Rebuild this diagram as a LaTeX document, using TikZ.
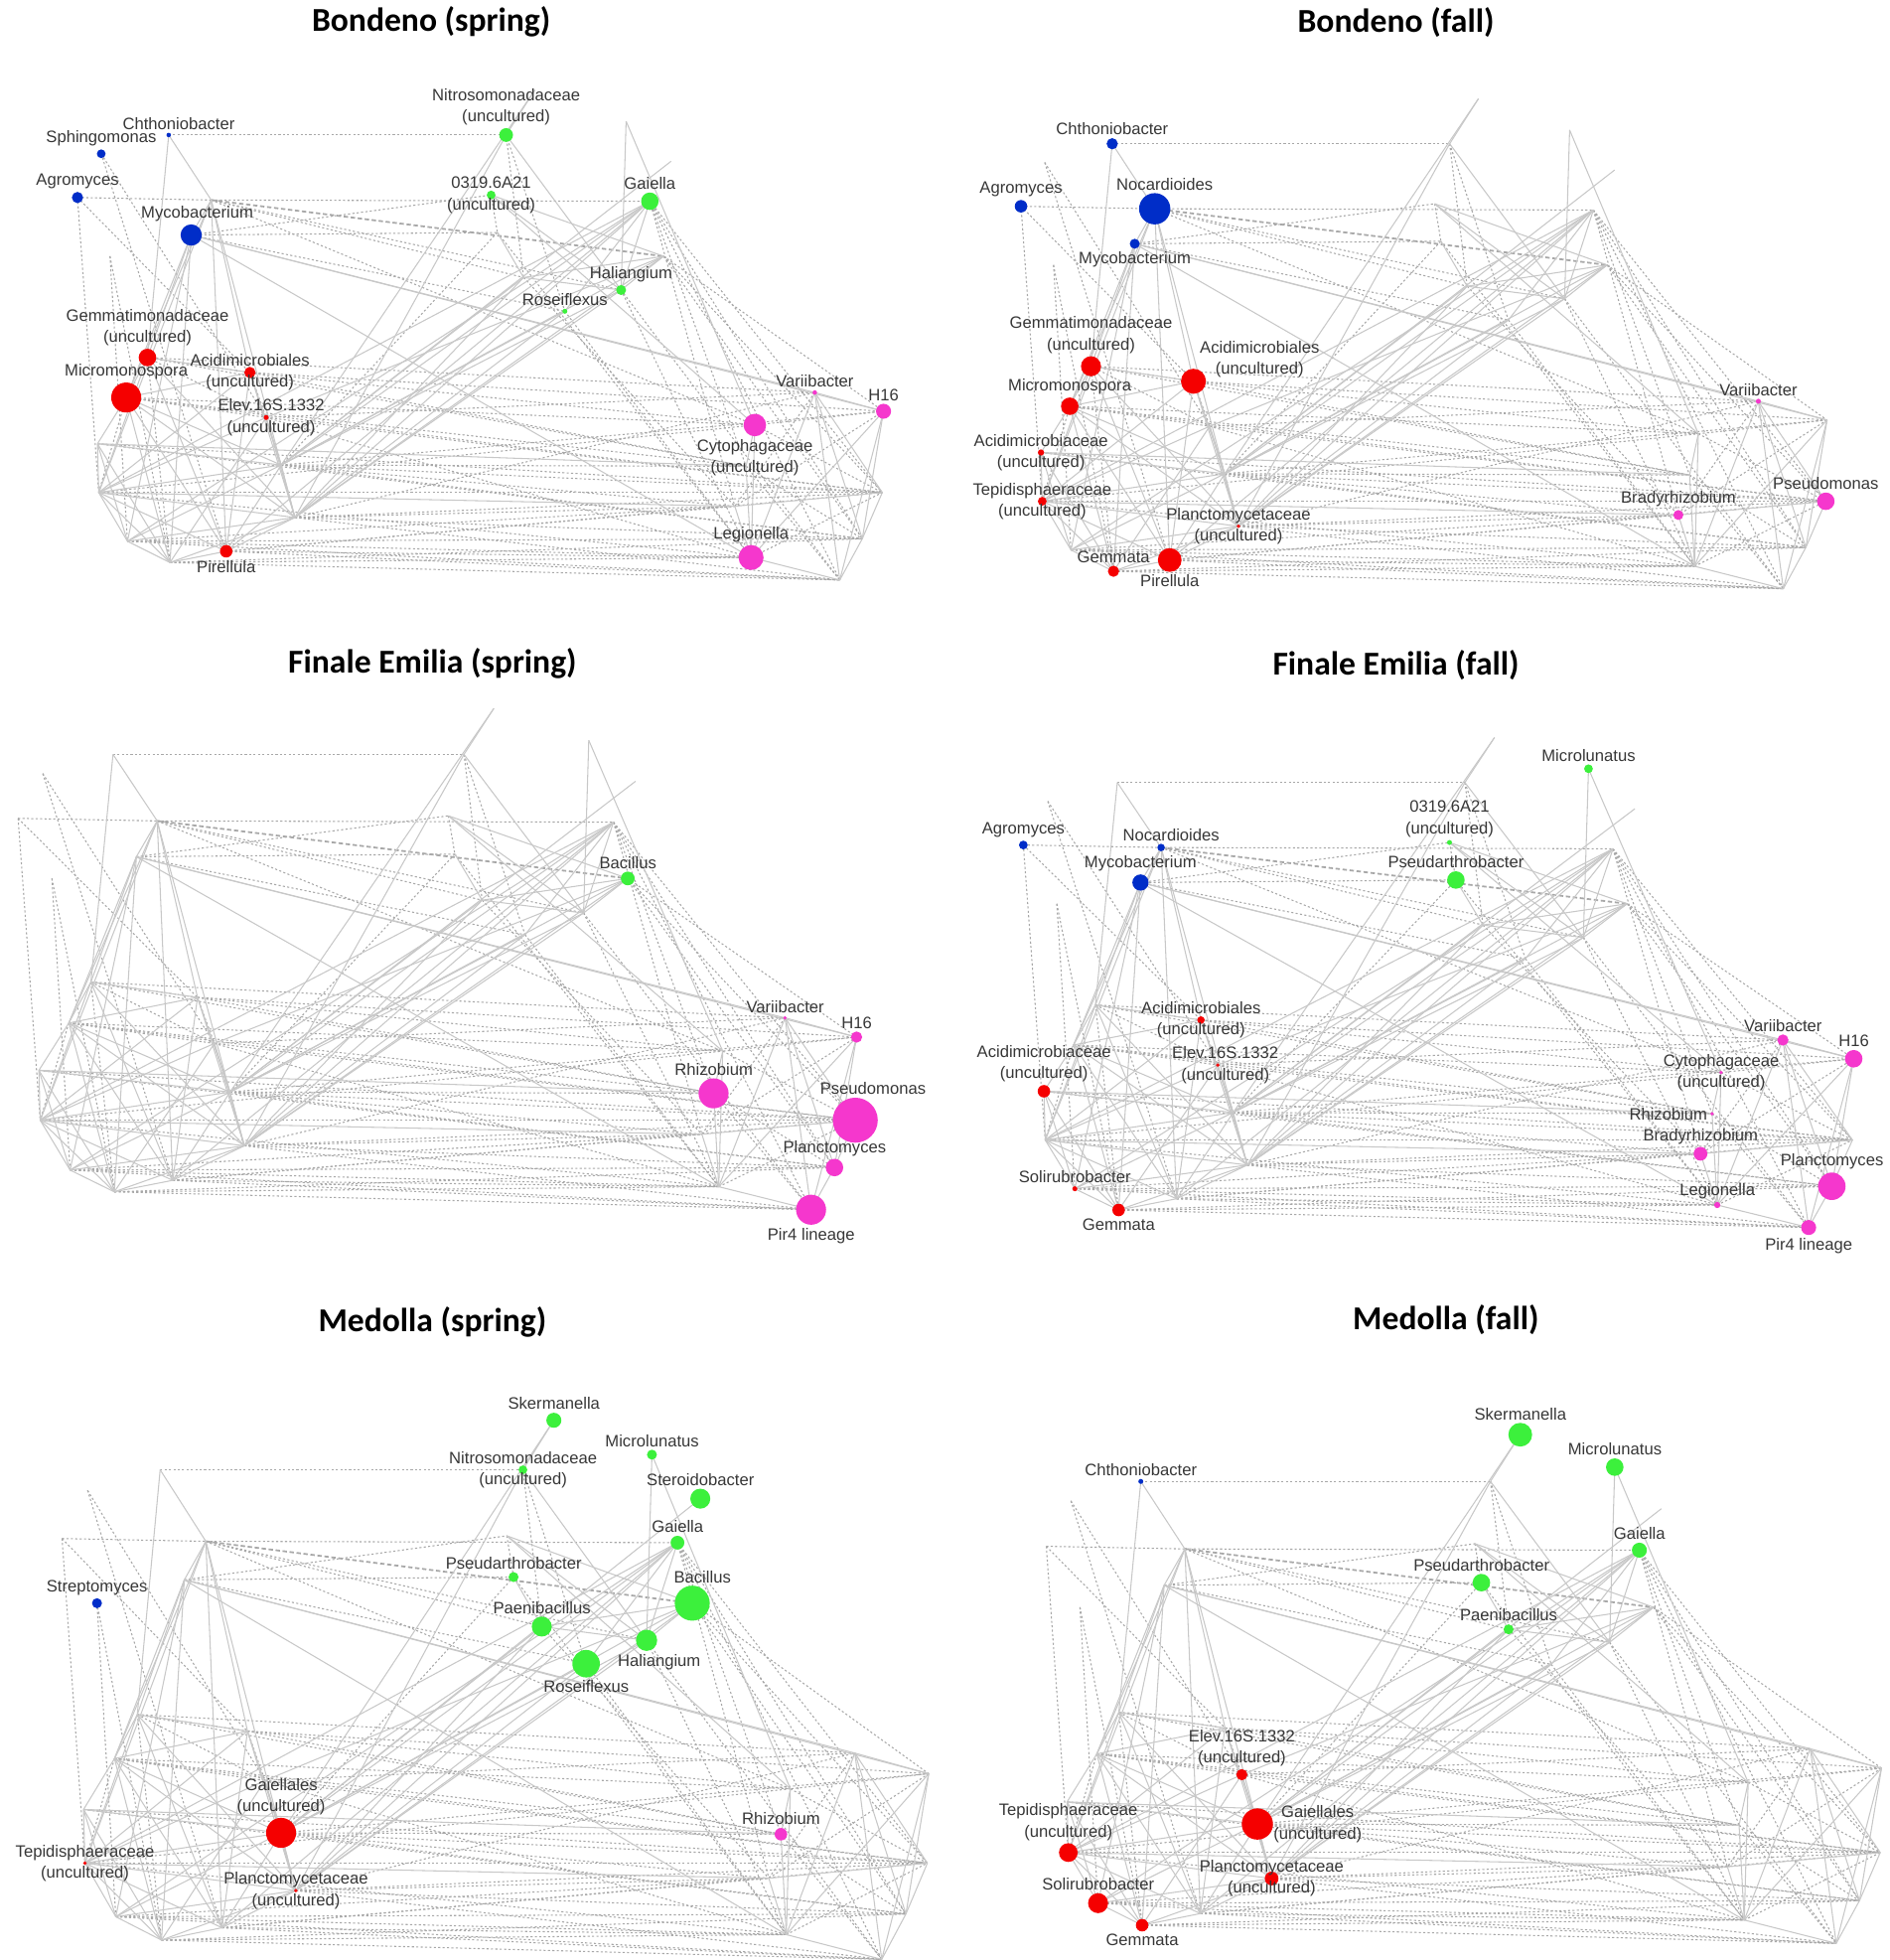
\documentclass[tikz,border=0pt]{standalone}
\usepackage{fontspec}
\setmainfont{Liberation Sans}
\newfontfamily\titlefont{Carlito}

\definecolor{nblue}{RGB}{0,45,200}
\definecolor{nred}{RGB}{245,0,0}
\definecolor{ngreen}{RGB}{60,240,60}
\definecolor{npink}{RGB}{245,55,205}
\definecolor{linkgray}{RGB}{200,200,200}
\definecolor{dotgray}{RGB}{168,168,168}
\definecolor{labgray}{RGB}{55,55,55}

\tikzset{
	taxon/.style = {circle, inner sep = 0pt, draw = none},
	sz/.style = {minimum size = #1*0.05cm},
	bluetaxon/.style = {taxon, fill = nblue},
	redtaxon/.style = {taxon, fill = nred},
	greentaxon/.style = {taxon, fill = ngreen},
	pinktaxon/.style = {taxon, fill = npink},
	lab/.style = {font = \fontsize{9.4}{12}\selectfont, text = labgray, inner sep = 0.8pt, align = center},
	link/.style = {draw = linkgray, line width = 0.6pt},
	dotlink/.style = {draw = dotgray, line width = 0.6pt, dash pattern = on 1.2pt off 1.3pt},
	paneltitle/.style = {font = \titlefont\bfseries\fontsize{19}{23}\selectfont}
}

% co-occurrence layout, the same in every panel
\newcommand{\netgraph}{%
	\coordinate (chth) at (135, 108);
	\coordinate (sphi) at (81, 123);
	\coordinate (agro) at (62, 158);
	\coordinate (noca) at (169, 160);
	\coordinate (myco) at (153, 188);
	\coordinate (strep) at (88, 205);
	\coordinate (nitro) at (405, 108);
	\coordinate (skerm) at (428, 72);
	\coordinate (micl) at (501, 97);
	\coordinate (steroi) at (537, 129);
	\coordinate (orf) at (393, 156);
	\coordinate (gaie) at (520, 161);
	\coordinate (pseuda) at (398, 186);
	\coordinate (bacil) at (531, 205);
	\coordinate (paeni) at (419, 222);
	\coordinate (hali) at (497, 232);
	\coordinate (rose) at (452, 249);
	\coordinate (gemmat) at (118, 286);
	\coordinate (acidi) at (200, 298);
	\coordinate (micro) at (101, 318);
	\coordinate (elev) at (213, 334);
	\coordinate (acmb) at (78, 355);
	\coordinate (gaiell) at (225, 372);
	\coordinate (tepi) at (79, 394);
	\coordinate (planc) at (236, 414);
	\coordinate (solir) at (102, 433);
	\coordinate (pire) at (181, 441);
	\coordinate (gemma) at (136, 450);
	\coordinate (vari) at (652, 314);
	\coordinate (h16) at (707, 329);
	\coordinate (cyto) at (604, 340);
	\coordinate (rhizo) at (597, 373);
	\coordinate (brady) at (588, 405);
	\coordinate (pseudo) at (706, 394);
	\coordinate (plancy) at (690, 431);
	\coordinate (legi) at (601, 446);
	\coordinate (pir4) at (672, 464);
	% negative correlations
	\foreach \a/\b in {chth/nitro, agro/noca, agro/acidi, agro/tepi, sphi/elev, sphi/pire, strep/solir, strep/gemma,
		noca/paeni, noca/hali, noca/gaie, myco/pseuda, myco/orf, myco/rose, noca/cyto, nitro/paeni, nitro/rose,
		orf/pseuda, pseuda/gaiell, pseuda/legi, gaie/plancy, gaie/pir4, gaie/pseudo, gaie/brady, gaie/rhizo,
		bacil/pseudo, bacil/plancy, bacil/h16, hali/legi, hali/pir4, rose/legi, paeni/brady, gemmat/vari,
		gemmat/elev, acidi/rhizo, acidi/h16, micro/elev, micro/rhizo, micro/cyto, elev/pseudo, elev/vari,
		gaiell/h16, gaiell/pseudo, gaiell/plancy, gaiell/rhizo, gaiell/brady, planc/plancy, planc/pir4,
		planc/pseudo, planc/brady, planc/vari, tepi/pseudo, tepi/cyto, tepi/legi, acmb/pseudo, acmb/plancy,
		solir/legi, solir/pir4, solir/brady, gemma/pir4, gemma/legi, gemma/plancy, pire/brady, pire/pir4,
		pire/legi, pire/pseudo, micro/tepi, gemmat/gemma, acidi/elev, vari/brady, h16/cyto, h16/brady,
		cyto/pseudo, rhizo/plancy, rhizo/pir4, legi/pseudo, acidi/cyto, micro/pseudo, gemmat/rhizo, elev/legi,
		solir/plancy, gemmat/acidi}
		\draw [dotlink] (\a) -- (\b);
	\draw [dotlink, line width = 1pt, dash pattern = on 2.5pt off 1.5pt] (noca) -- (bacil);
	% positive correlations
	\foreach \a/\b in {chth/noca, chth/gemmat, noca/myco, noca/acidi, noca/pire, noca/micro, noca/tepi, noca/planc,
		myco/gemmat, myco/micro, myco/vari, myco/h16, myco/legi, myco/gemma, myco/solir, skerm/nitro, nitro/planc,
		nitro/hali, micl/cyto, micl/hali, steroi/gaiell, orf/cyto, orf/bacil, orf/hali, gaie/gaiell, gaie/planc,
		gaie/pire, gaie/hali, gaie/rose, gaie/solir, gaie/tepi, bacil/gaiell, bacil/planc, bacil/paeni, bacil/hali,
		bacil/elev, paeni/gaiell, paeni/planc, paeni/hali, paeni/pseuda, hali/gaiell, hali/planc, rose/gaiell,
		rose/planc, gemmat/acidi, gemmat/micro, gemmat/planc, gemmat/pire, gemmat/tepi, acidi/planc, acidi/gaiell,
		acidi/pire, acidi/micro, acidi/tepi, micro/acmb, micro/gemma, micro/planc, micro/pire, micro/gaiell,
		elev/planc, elev/gemma, elev/tepi, elev/gaiell, acmb/tepi, acmb/gemma, acmb/solir, acmb/gaiell,
		tepi/gaiell, tepi/planc, tepi/solir, tepi/gemma, tepi/pire, solir/gemma, solir/planc, solir/gaiell,
		gemma/pire, gemma/planc, pire/planc, gaiell/planc, gaiell/pire, acmb/rhizo, tepi/brady, skerm/gaiell,
		vari/pir4, vari/plancy, vari/legi, vari/h16, h16/legi, h16/pir4, cyto/legi, cyto/rhizo, rhizo/legi,
		pseudo/plancy, pseudo/vari, plancy/pir4, legi/pir4, brady/legi, brady/pseudo, h16/plancy}
		\draw [link] (\a) -- (\b);
}

\begin{document}
\begin{tikzpicture}[x = 0.025cm, y = -0.025cm, label distance = 0.5pt]
	\useasboundingbox (0, 0) rectangle (1512, 1568);

	% titles
	\node (tbs) at (345, 17) [paneltitle] {Bondeno (spring)};
	\node (tbf) at (1117, 18) [paneltitle] {Bondeno (fall)};
	\node (tfs) at (346, 531) [paneltitle] {Finale Emilia (spring)};
	\node (tff) at (1117, 532) [paneltitle] {Finale Emilia (fall)};
	\node (tms) at (346, 1058) [paneltitle] {Medolla (spring)};
	\node (tmf) at (1157, 1056) [paneltitle] {Medolla (fall)};

	% bondeno spring
	\begin{scope}[name prefix = bs-]
		\netgraph
		\node (chthN) at (chth) [bluetaxon, sz = 1.8, label = {[lab, xshift = 0.2cm]above:Chthoniobacter}] {};
		\node (sphiN) at (sphi) [bluetaxon, sz = 3.5, label = {[lab]above:Sphingomonas}] {};
		\node (agroN) at (agro) [bluetaxon, sz = 4.5, label = {[lab]above:Agromyces}] {};
		\node (mycoN) at (myco) [bluetaxon, sz = 8.5, label = {[lab, xshift = 0.12cm]above:Mycobacterium}] {};
		\node (nitroN) at (nitro) [greentaxon, sz = 5.5, label = {[lab]above:{Nitrosomonadaceae\\(uncultured)}}] {};
		\node (orfN) at (orf) [greentaxon, sz = 3.5, label = {[lab]center:{0319.6A21\\(uncultured)}}] {};
		\node (gaieN) at (gaie) [greentaxon, sz = 7, label = {[lab]above:Gaiella}] {};
		\node (haliN) at (hali) [greentaxon, sz = 4, label = {[lab, xshift = 0.2cm]above:Haliangium}] {};
		\node (roseN) at (rose) [greentaxon, sz = 2, label = {[lab]above:Roseiflexus}] {};
		\node (gemmatN) at (gemmat) [redtaxon, sz = 7, label = {[lab]above:{Gemmatimonadaceae\\(uncultured)}}] {};
		\node (acidiN) at (acidi) [redtaxon, sz = 4.5, label = {[lab]center:{Acidimicrobiales\\(uncultured)}}] {};
		\node (microN) at (micro) [redtaxon, sz = 12, label = {[lab]above:Micromonospora}] {};
		\node (elevN) at (elev) [redtaxon, sz = 2, label = {[lab, xshift = 0.1cm]center:{Elev.16S.1332\\(uncultured)}}] {};
		\node (pireN) at (pire) [redtaxon, sz = 5, label = {[lab]below:Pirellula}] {};
		\node (variN) at (vari) [pinktaxon, sz = 1.8, label = {[lab]above:Variibacter}] {};
		\node (h16N) at (h16) [pinktaxon, sz = 6, label = {[lab]above:H16}] {};
		\node (cytoN) at (cyto) [pinktaxon, sz = 9, label = {[lab]below:{Cytophagaceae\\(uncultured)}}] {};
		\node (legiN) at (legi) [pinktaxon, sz = 10, label = {[lab]above:Legionella}] {};
	\end{scope}

	% bondeno fall
	\begin{scope}[name prefix = bf-, shift = {(755, 7)}]
		\netgraph
		\node (chthN) at (chth) [bluetaxon, sz = 4.5, label = {[lab]above:Chthoniobacter}] {};
		\node (agroN) at (agro) [bluetaxon, sz = 5, label = {[lab]above:Agromyces}] {};
		\node (nocaN) at (noca) [bluetaxon, sz = 12.5, label = {[lab, xshift = 0.2cm]above:Nocardioides}] {};
		\node (mycoN) at (myco) [bluetaxon, sz = 4, label = {[lab]below:Mycobacterium}] {};
		\node (gemmatN) at (gemmat) [redtaxon, sz = 8, label = {[lab]above:{Gemmatimonadaceae\\(uncultured)}}] {};
		\node (acidiN) at (acidi) [redtaxon, sz = 10, label = {[lab, xshift = -0.1cm, yshift = -0.15cm]above right:{Acidimicrobiales\\(uncultured)}}] {};
		\node (microN) at (micro) [redtaxon, sz = 7, label = {[lab]above:Micromonospora}] {};
		\node (acmbN) at (acmb) [redtaxon, sz = 2.5, label = {[lab]center:{Acidimicrobiaceae\\(uncultured)}}] {};
		\node (tepiN) at (tepi) [redtaxon, sz = 3.5, label = {[lab]center:{Tepidisphaeraceae\\(uncultured)}}] {};
		\node (plancN) at (planc) [redtaxon, sz = 1.5, label = {[lab]center:{Planctomycetaceae\\(uncultured)}}] {};
		\node (gemmaN) at (gemma) [redtaxon, sz = 4.5, label = {[lab]above:Gemmata}] {};
		\node (pireN) at (pire) [redtaxon, sz = 9.5, label = {[lab]below:Pirellula}] {};
		\node (variN) at (vari) [pinktaxon, sz = 2, label = {[lab]above:Variibacter}] {};
		\node (bradyN) at (brady) [pinktaxon, sz = 4, label = {[lab]above:Bradyrhizobium}] {};
		\node (pseudoN) at (pseudo) [pinktaxon, sz = 7, label = {[lab]above:Pseudomonas}] {};
	\end{scope}

	% finale emilia spring
	\begin{scope}[name prefix = fs-, shift = {(-50, 493)}, xscale = 1.04, yscale = 1.023]
		\netgraph
		\node (bacilN) at (bacil) [greentaxon, sz = 5.5, label = {[lab]above:Bacillus}] {};
		\node (variN) at (vari) [pinktaxon, sz = 1.5, label = {[lab]above:Variibacter}] {};
		\node (h16N) at (h16) [pinktaxon, sz = 4.5, label = {[lab]above:H16}] {};
		\node (rhizoN) at (rhizo) [pinktaxon, sz = 12, label = {[lab]above:Rhizobium}] {};
		\node (pseudoN) at (pseudo) [pinktaxon, sz = 18, label = {[lab, xshift = 0.35cm]above:Pseudomonas}] {};
		\node (plancyN) at (plancy) [pinktaxon, sz = 7, label = {[lab]above:Planctomyces}] {};
		\node (pir4N) at (pir4) [pinktaxon, sz = 12, label = {[lab]below:Pir4 lineage}] {};
	\end{scope}

	% finale emilia fall
	\begin{scope}[name prefix = ff-, shift = {(755, 518)}, xscale = 1.03]
		\netgraph
		\node (miclN) at (micl) [greentaxon, sz = 3.5, label = {[lab]above:Microlunatus}] {};
		\node (orfN) at (orf) [greentaxon, sz = 2, label = {[lab]above:{0319.6A21\\(uncultured)}}] {};
		\node (pseudaN) at (pseuda) [greentaxon, sz = 7, label = {[lab]above:Pseudarthrobacter}] {};
		\node (agroN) at (agro) [bluetaxon, sz = 3.5, label = {[lab]above:Agromyces}] {};
		\node (nocaN) at (noca) [bluetaxon, sz = 3, label = {[lab, xshift = 0.2cm]above:Nocardioides}] {};
		\node (mycoN) at (myco) [bluetaxon, sz = 6.5, label = {[lab]above:Mycobacterium}] {};
		\node (acidiN) at (acidi) [redtaxon, sz = 3, label = {[lab]center:{Acidimicrobiales\\(uncultured)}}] {};
		\node (elevN) at (elev) [redtaxon, sz = 1.5, label = {[lab, xshift = 0.15cm]center:{Elev.16S.1332\\(uncultured)}}] {};
		\node (acmbN) at (acmb) [redtaxon, sz = 5, label = {[lab]above:{Acidimicrobiaceae\\(uncultured)}}] {};
		\node (solirN) at (solir) [redtaxon, sz = 2, label = {[lab]above:Solirubrobacter}] {};
		\node (gemmaN) at (gemma) [redtaxon, sz = 5, label = {[lab]below:Gemmata}] {};
		\node (variN) at (vari) [pinktaxon, sz = 4.5, label = {[lab]above:Variibacter}] {};
		\node (h16N) at (h16) [pinktaxon, sz = 7, label = {[lab]above:H16}] {};
		\node (cytoN) at (cyto) [pinktaxon, sz = 1.5, label = {[lab]center:{Cytophagaceae\\(uncultured)}}] {};
		\node (rhizoN) at (rhizo) [pinktaxon, sz = 1.5, label = {[lab]left:Rhizobium}] {};
		\node (bradyN) at (brady) [pinktaxon, sz = 5.5, label = {[lab]above:Bradyrhizobium}] {};
		\node (legiN) at (legi) [pinktaxon, sz = 2.5, label = {[lab]above:Legionella}] {};
		\node (plancyN) at (plancy) [pinktaxon, sz = 11, label = {[lab]above:Planctomyces}] {};
		\node (pir4N) at (pir4) [pinktaxon, sz = 6, label = {[lab]below:Pir4 lineage}] {};
	\end{scope}

	% medolla spring
	\begin{scope}[name prefix = ms-, shift = {(-17, 1057)}, xscale = 1.075, yscale = 1.1]
		\netgraph
		\node (skermN) at (skerm) [greentaxon, sz = 6, label = {[lab]above:Skermanella}] {};
		\node (miclN) at (micl) [greentaxon, sz = 4, label = {[lab]above:Microlunatus}] {};
		\node (nitroN) at (nitro) [greentaxon, sz = 3.5, label = {[lab]center:{Nitrosomonadaceae\\(uncultured)}}] {};
		\node (steroiN) at (steroi) [greentaxon, sz = 8, label = {[lab]above:Steroidobacter}] {};
		\node (gaieN) at (gaie) [greentaxon, sz = 5.5, label = {[lab]above:Gaiella}] {};
		\node (pseudaN) at (pseuda) [greentaxon, sz = 4, label = {[lab]above:Pseudarthrobacter}] {};
		\node (bacilN) at (bacil) [greentaxon, sz = 14, label = {[lab, xshift = 0.2cm]above:Bacillus}] {};
		\node (paeniN) at (paeni) [greentaxon, sz = 8, label = {[lab]above:Paenibacillus}] {};
		\node (haliN) at (hali) [greentaxon, sz = 8.5, label = {[lab, xshift = 0.25cm]below:Haliangium}] {};
		\node (roseN) at (rose) [greentaxon, sz = 11, label = {[lab]below:Roseiflexus}] {};
		\node (strepN) at (strep) [bluetaxon, sz = 4, label = {[lab]above:Streptomyces}] {};
		\node (gaiellN) at (gaiell) [redtaxon, sz = 12, label = {[lab]above:{Gaiellales\\(uncultured)}}] {};
		\node (tepiN) at (tepi) [redtaxon, sz = 1.5, label = {[lab]center:{Tepidisphaeraceae\\(uncultured)}}] {};
		\node (plancN) at (planc) [redtaxon, sz = 1.5, label = {[lab]center:{Planctomycetaceae\\(uncultured)}}] {};
		\node (rhizoN) at (rhizo) [pinktaxon, sz = 5, label = {[lab]above:Rhizobium}] {};
	\end{scope}

	% medolla fall
	\begin{scope}[name prefix = mf-, shift = {(773, 1073)}, xscale = 1.036, yscale = 1.038]
		\netgraph
		\node (skermN) at (skerm) [greentaxon, sz = 9.5, label = {[lab]above:Skermanella}] {};
		\node (miclN) at (micl) [greentaxon, sz = 7, label = {[lab]above:Microlunatus}] {};
		\node (chthN) at (chth) [bluetaxon, sz = 2, label = {[lab]above:Chthoniobacter}] {};
		\node (gaieN) at (gaie) [greentaxon, sz = 6, label = {[lab]above:Gaiella}] {};
		\node (pseudaN) at (pseuda) [greentaxon, sz = 7, label = {[lab]above:Pseudarthrobacter}] {};
		\node (paeniN) at (paeni) [greentaxon, sz = 4, label = {[lab]above:Paenibacillus}] {};
		\node (elevN) at (elev) [redtaxon, sz = 4.5, label = {[lab]above:{Elev.16S.1332\\(uncultured)}}] {};
		\node (tepiN) at (tepi) [redtaxon, sz = 7.5, label = {[lab]above:{Tepidisphaeraceae\\(uncultured)}}] {};
		\node (gaiellN) at (gaiell) [redtaxon, sz = 12.5, label = {[lab, xshift = -0.05cm]right:{Gaiellales\\(uncultured)}}] {};
		\node (plancN) at (planc) [redtaxon, sz = 5.5, label = {[lab]center:{Planctomycetaceae\\(uncultured)}}] {};
		\node (solirN) at (solir) [redtaxon, sz = 8, label = {[lab]above:Solirubrobacter}] {};
		\node (gemmaN) at (gemma) [redtaxon, sz = 5, label = {[lab]below:Gemmata}] {};
	\end{scope}
\end{tikzpicture}
\end{document}
